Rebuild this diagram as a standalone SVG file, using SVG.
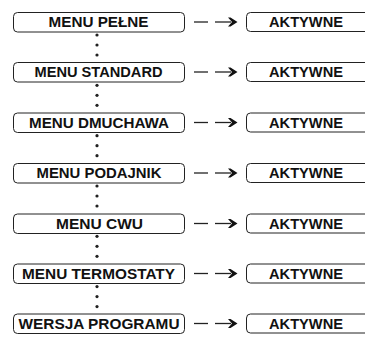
<svg xmlns="http://www.w3.org/2000/svg" width="365" height="339" viewBox="0 0 365 339">
<style>
.box{fill:#fff;stroke:#222;stroke-width:1}
.lbl{font-family:"Liberation Sans",Arial,sans-serif;font-weight:bold;font-size:15px;fill:#111;text-anchor:middle}
.dash{stroke:#222;stroke-width:1.3;fill:none}
.dot{fill:#222}
.head{fill:#111}
</style>
<defs>
<g id="conn">
<line class="dash" x1="194" y1="10" x2="208" y2="10"/>
<line class="dash" x1="215" y1="10" x2="231" y2="10"/>
<path class="head" d="M228,5.5 L230.5,5.5 L237.5,10 L230.5,14.5 L228,14.5 L232,10 Z"/>
</g>
<g id="dots">
<circle class="dot" cx="97" cy="23" r="1.6"/>
<circle class="dot" cx="97" cy="33" r="1.6"/>
<circle class="dot" cx="97" cy="43" r="1.6"/>
</g>
</defs>
<g id="n1">
<rect class="box" x="13.5" y="12.5" width="171" height="19.5" rx="4"/>
<text class="lbl" x="98.5" y="27" textLength="100" lengthAdjust="spacingAndGlyphs">MENU PEŁNE</text>
</g>
<g id="a1">
<rect class="box" x="246.5" y="12.5" width="130" height="19" rx="4"/>
<text class="lbl" x="306" y="27" textLength="74" lengthAdjust="spacingAndGlyphs">AKTYWNE</text>
</g>
<g id="n2">
<rect class="box" x="13.5" y="62.5" width="171" height="19.5" rx="4"/>
<text class="lbl" x="98.5" y="77" textLength="128" lengthAdjust="spacingAndGlyphs">MENU STANDARD</text>
</g>
<g id="a2">
<rect class="box" x="246.5" y="62.5" width="130" height="19" rx="4"/>
<text class="lbl" x="306" y="77" textLength="74" lengthAdjust="spacingAndGlyphs">AKTYWNE</text>
</g>
<g id="n3">
<rect class="box" x="13.5" y="113" width="171" height="19.5" rx="4"/>
<text class="lbl" x="99" y="127.5" textLength="140" lengthAdjust="spacingAndGlyphs">MENU DMUCHAWA</text>
</g>
<g id="a3">
<rect class="box" x="246.5" y="113" width="130" height="19" rx="4"/>
<text class="lbl" x="306" y="127.5" textLength="74" lengthAdjust="spacingAndGlyphs">AKTYWNE</text>
</g>
<g id="n4">
<rect class="box" x="13.5" y="163.5" width="171" height="19.5" rx="4"/>
<text class="lbl" x="99" y="178" textLength="125" lengthAdjust="spacingAndGlyphs">MENU PODAJNIK</text>
</g>
<g id="a4">
<rect class="box" x="246.5" y="163.5" width="130" height="19" rx="4"/>
<text class="lbl" x="306" y="178" textLength="74" lengthAdjust="spacingAndGlyphs">AKTYWNE</text>
</g>
<g id="n5">
<rect class="box" x="13.5" y="214" width="171" height="19.5" rx="4"/>
<text class="lbl" x="99.5" y="228.5" textLength="87" lengthAdjust="spacingAndGlyphs">MENU CWU</text>
</g>
<g id="a5">
<rect class="box" x="246.5" y="214" width="130" height="19" rx="4"/>
<text class="lbl" x="306" y="228.5" textLength="74" lengthAdjust="spacingAndGlyphs">AKTYWNE</text>
</g>
<g id="n6">
<rect class="box" x="13.5" y="264" width="171" height="19.5" rx="4"/>
<text class="lbl" x="98.5" y="278.5" textLength="153" lengthAdjust="spacingAndGlyphs">MENU TERMOSTATY</text>
</g>
<g id="a6">
<rect class="box" x="246.5" y="264" width="130" height="19" rx="4"/>
<text class="lbl" x="306" y="278.5" textLength="74" lengthAdjust="spacingAndGlyphs">AKTYWNE</text>
</g>
<g id="n7">
<rect class="box" x="13.5" y="314" width="171" height="19.5" rx="4"/>
<text class="lbl" x="99" y="328.5" textLength="161" lengthAdjust="spacingAndGlyphs">WERSJA PROGRAMU</text>
</g>
<g id="a7">
<rect class="box" x="246.5" y="314" width="130" height="19" rx="4"/>
<text class="lbl" x="306" y="328.5" textLength="74" lengthAdjust="spacingAndGlyphs">AKTYWNE</text>
</g>
<g id="connectors">
<use href="#conn" y="12"/>
<use href="#conn" y="62"/>
<use href="#conn" y="112.5"/>
<use href="#conn" y="163"/>
<use href="#conn" y="213.5"/>
<use href="#conn" y="263.5"/>
<use href="#conn" y="313.5"/>
<use href="#dots" y="12"/>
<use href="#dots" y="62.3"/>
<use href="#dots" y="112.7"/>
<use href="#dots" y="163"/>
<use href="#dots" y="213.3"/>
<use href="#dots" y="263.6"/>
</g>
</svg>
